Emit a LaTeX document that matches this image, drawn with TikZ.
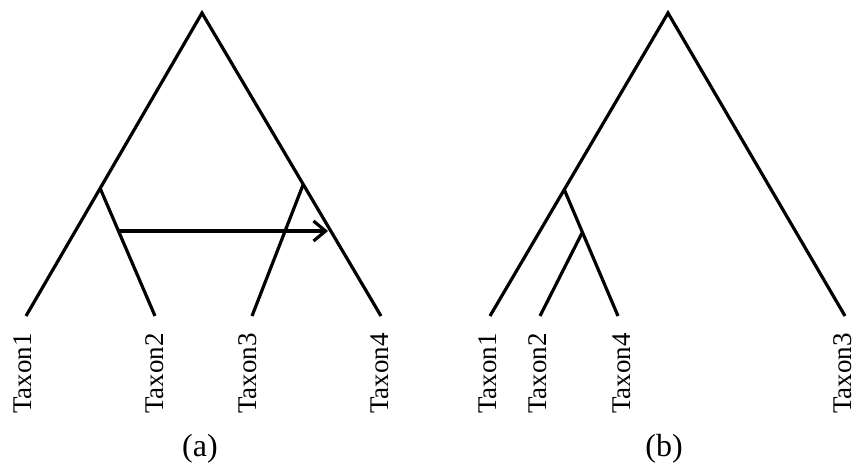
\documentclass[tikz,border=0pt]{standalone}
\usepackage{fontspec}
\setmainfont{Liberation Serif}
\usetikzlibrary{arrows.meta}
\begin{document}
\begin{tikzpicture}[x=1pt,y=-1pt,
  branch/.style={line width=3.2pt, line cap=butt},
  taxon/.style={rotate=90, anchor=east, inner sep=0pt, font=\fontsize{27}{32}\selectfont},
  panel/.style={inner sep=0pt, font=\fontsize{32}{38}\selectfont}]
\useasboundingbox (0,0) rectangle (858,466);
% (a)
\coordinate (ar) at (202,13);
\coordinate (al) at (100,188);
\coordinate (ai) at (303,185);
\coordinate (a1) at (26,316);
\coordinate (a2) at (155,316);
\coordinate (a3) at (252,316);
\coordinate (a4) at (381,316);
\draw[branch] (a1) -- (ar) -- (a4);
\draw[branch] (al) -- (a2);
\draw[branch] (ai) -- (a3);
\coordinate (as) at (119,231);
\coordinate (ae) at (328,231);
\draw[branch, -{Straight Barb[length=12pt,width=20pt]}] (as) -- (ae);
\node[taxon] (t1a) at (23,333) {Taxon1};
\node[taxon] (t2a) at (155,333) {Taxon2};
\node[taxon] (t3a) at (248,333) {Taxon3};
\node[taxon] (t4a) at (380,333) {Taxon4};
\node[panel] (la) at (200,449) {(a)};
% (b)
\coordinate (br) at (668,13);
\coordinate (bi) at (564,189);
\coordinate (bj) at (582,233);
\coordinate (b1) at (490,316);
\coordinate (b2) at (540,316);
\coordinate (b4) at (618,316);
\coordinate (b3) at (845,316);
\draw[branch] (b1) -- (br) -- (b3);
\draw[branch] (bi) -- (b4);
\draw[branch] (bj) -- (b2);
\node[taxon] (t1b) at (488,333) {Taxon1};
\node[taxon] (t2b) at (538,333) {Taxon2};
\node[taxon] (t4b) at (622,333) {Taxon4};
\node[taxon] (t3b) at (843,333) {Taxon3};
\node[panel] (lb) at (664,449) {(b)};
\end{tikzpicture}
\end{document}
